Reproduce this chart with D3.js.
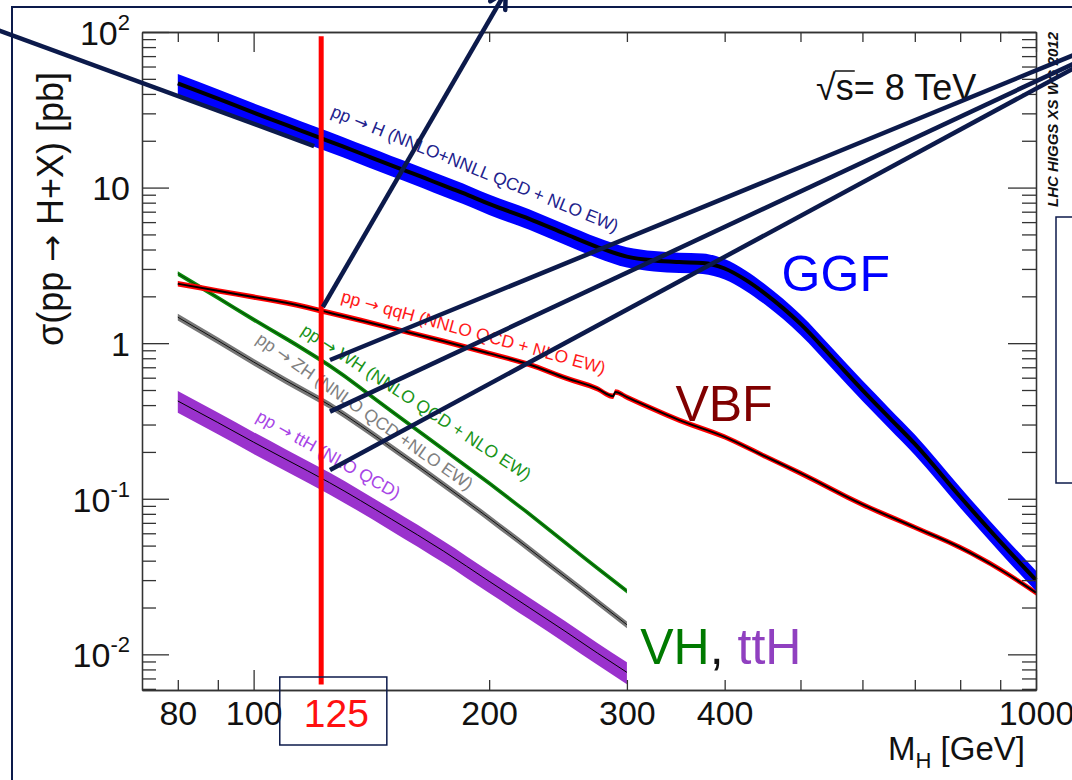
<!DOCTYPE html>
<html>
<head>
<meta charset="utf-8">
<script src="https://cdn.jsdelivr.net/npm/d3@7"></script>
<style>
    body { margin: 0; background: #fff; }
    svg { display: block; font-family: "Liberation Sans", Arial, sans-serif; }
</style>
</head>
<body>
<svg id="SVG_CONTAINER" width="1072" height="780"></svg>
<script>
let d3 = window.d3;

// sigma(pp -> H+X) at sqrt(s) = 8 TeV
// masses in GeV, cross sections in pb (centre of each band)
const ggfMass = [80, 90, 100, 110, 120, 130, 140, 150, 160, 170, 180, 190, 200, 225, 250, 275, 300, 325, 350, 375, 400, 425, 450, 475, 500, 550, 600, 650, 700, 800, 900, 1000];
const ggfXsec = [46.7, 37.3, 30.3, 25.3, 21.4, 18.4, 15.9, 13.9, 12.3, 10.9, 9.75, 8.75, 7.85, 6.3, 5.05, 4.15, 3.6, 3.4, 3.32, 3.28, 3.02, 2.56, 2.09, 1.68, 1.33, 0.80, 0.50, 0.33, 0.225, 0.103, 0.053, 0.030];

const vbfMass = [80, 90, 100, 110, 125, 150, 175, 200, 225, 250, 275, 288, 290, 300, 350, 400, 450, 500, 600, 700, 800, 900, 1000];
const vbfXsec = [2.41, 2.17, 1.98, 1.82, 1.57, 1.25, 1.03, 0.86, 0.73, 0.60, 0.51, 0.456, 0.486, 0.45, 0.32, 0.25, 0.188, 0.146, 0.092, 0.0655, 0.0486, 0.0351, 0.0249];

const vhMass  = [80, 90, 100, 110, 125, 150, 175, 200, 225, 250, 275, 300];
const whXsec  = [2.80, 1.96, 1.42, 1.07, 0.718, 0.366, 0.207, 0.126, 0.080, 0.0525, 0.0358, 0.0255];
const zhXsec  = [1.47, 1.04, 0.757, 0.574, 0.40, 0.214, 0.123, 0.075, 0.0477, 0.0316, 0.0218, 0.0155];
const tthXsec = [0.425, 0.309, 0.231, 0.179, 0.127, 0.074, 0.046, 0.0295, 0.020, 0.0141, 0.0102, 0.00766];

// relative half width of the uncertainty bands
const ggfBand = 0.15, vbfBand = 0.04, whBand = 0.035, zhBand = 0.05, tthBand = 0.16;

const processLabels = [
    ["pp", "H (NNLO+NNLL QCD + NLO EW)"],
    ["pp", "qqH (NNLO QCD + NLO EW)"],
    ["pp", "WH (NNLO QCD + NLO EW)"],
    ["pp", "ZH (NNLO QCD +NLO EW)"],
    ["pp", "ttH (NLO QCD)"]
];

const xTickValues  = [80, 90, 100, 200, 300, 400, 500, 600, 700, 800, 900, 1000];
const xLabelValues = [80, 100, 200, 300, 400, 1000];
const yDecades     = [0.01, 0.1, 1, 10, 100];

const higgsMass  = 125;
const markerMass = 122;   // where the slide's red line actually sits


const WIDTH = 1072, HEIGHT = 780;
const PLOT = {
    "LEFT": 142,
    "RIGHT": 1036,
    "TOP": 32,
    "BOTTOM": 690,
};
const NAVY = "#0c1a4b";
const ARROW_FONT = "DejaVu Sans";


window.onload = function () {
    setup();
};

let setup = function () {
    let svg = d3.select("#SVG_CONTAINER");

    let xScale = d3.scaleLog()
        .domain([72, 1000])
        .range([PLOT.LEFT, PLOT.RIGHT]);

    let yScale = d3.scaleLog()
        .domain([0.0059, 100])
        .range([PLOT.BOTTOM, PLOT.TOP]);

    //slide frame behind the plot
    svg.append("rect")
        .attr("x", 12).attr("y", 7)
        .attr("width", WIDTH + 40).attr("height", HEIGHT + 40)
        .attr("fill", "none")
        .attr("stroke", NAVY)
        .attr("stroke-width", 2);

    drawCurves(svg, xScale, yScale);
    drawAxes(svg, xScale, yScale);
    drawText(svg, xScale, yScale);
    drawOverlay(svg, xScale, yScale);
};


let drawCurves = function (svg, xScale, yScale) {
    const series = [
        {mass: vhMass,  xsec: tthXsec, band: tthBand, fill: "#9a32cd", stroke: "#000",    width: 1},
        {mass: vhMass,  xsec: zhXsec,  band: zhBand,  fill: "#777777", stroke: "#111",    width: 1},
        {mass: vhMass,  xsec: whXsec,  band: whBand,  fill: "#0a8a0a", stroke: "#063f06", width: 1},
        {mass: vbfMass, xsec: vbfXsec, band: vbfBand, fill: "#ff0000", stroke: "#000",    width: 2},
        {mass: ggfMass, xsec: ggfXsec, band: ggfBand, fill: "#0000ff", stroke: "#000",    width: 4},
    ];

    let g = svg.append("g").attr("class", "curves");

    series.forEach(function (s) {
        let pts = s.mass.map((m, i) => ({m: m, v: s.xsec[i]}));

        let area = d3.area()
            .x(d => xScale(d.m))
            .y0(d => yScale(d.v * (1 - s.band)))
            .y1(d => yScale(d.v * (1 + s.band)))
            .curve(d3.curveMonotoneX);

        let line = d3.line()
            .x(d => xScale(d.m))
            .y(d => yScale(d.v))
            .curve(d3.curveMonotoneX);

        g.append("path")
            .attr("d", area(pts))
            .attr("fill", s.fill);

        g.append("path")
            .attr("d", line(pts))
            .attr("fill", "none")
            .attr("stroke", s.stroke)
            .attr("stroke-width", s.width);
    });
};


let drawAxes = function (svg, xScale, yScale) {
    let g = svg.append("g").attr("class", "axes");
    const xMajor = [100, 1000];
    let xMinor = xTickValues.filter(v => xMajor.indexOf(v) < 0);

    let yMinor = [];
    for (let e = -3; e < 2; e++) {
        for (let k = 2; k < 10; k++) {
            let v = k * Math.pow(10, e);
            if (v >= yScale.domain()[0] && v <= 100) yMinor.push(v);
        }
    }

    let place = function (axis, tx, ty) {
        let a = g.append("g")
            .attr("transform", "translate(" + tx + ", " + ty + ")")
            .call(axis.tickSizeOuter(0).tickFormat(""));
        a.selectAll("path, line").attr("stroke", "#333").attr("stroke-width", 1.3);
        return a;
    };

    //ticks point into the frame on all four sides
    place(d3.axisLeft(yScale).tickValues(yMinor).tickSize(-14), PLOT.LEFT, 0);
    place(d3.axisRight(yScale).tickValues(yMinor).tickSize(-14), PLOT.RIGHT, 0);
    place(d3.axisRight(yScale).tickValues(yDecades).tickSize(-28), PLOT.RIGHT, 0);
    place(d3.axisBottom(xScale).tickValues(xMinor).tickSize(-10), 0, PLOT.BOTTOM);
    place(d3.axisTop(xScale).tickValues(xMinor).tickSize(-10), 0, PLOT.TOP);
    place(d3.axisTop(xScale).tickValues(xMajor).tickSize(-20), 0, PLOT.TOP);
    place(d3.axisBottom(xScale).tickValues(xMajor).tickSize(-20), 0, PLOT.BOTTOM);

    //y axis with decade labels
    let yAxis = place(d3.axisLeft(yScale).tickValues(yDecades).tickSize(-27).tickPadding(12), PLOT.LEFT, 0);
    yAxis.attr("font-size", null).attr("font-family", null);
    yAxis.selectAll(".tick text")
        .attr("dy", "0.36em")
        .style("font-size", "34px")
        .attr("fill", "#111")
        .each(function (d) {
            let t = d3.select(this);
            let e = Math.round(Math.log10(d));
            if (e === 0) { t.text("1"); return; }
            if (e === 1) { t.text("10"); return; }
            t.append("tspan").text("10");
            t.append("tspan").attr("dy", -15).style("font-size", "22px").text(e);
        });

    //x axis labels
    let xAxis = g.append("g")
        .attr("transform", "translate(0, " + PLOT.BOTTOM + ")")
        .call(d3.axisBottom(xScale).tickValues(xLabelValues).tickSize(0).tickPadding(11).tickFormat(d3.format("d")));
    xAxis.attr("font-size", null).attr("font-family", null);
    xAxis.select(".domain").remove();
    xAxis.selectAll(".tick text")
        .style("font-size", "34px")
        .attr("fill", "#111");
};


let drawText = function (svg, xScale, yScale) {
    //y axis title
    let yt = svg.append("text")
        .attr("transform", "translate(63, 209) rotate(-90)")
        .attr("text-anchor", "middle")
        .style("font-size", "36px")
        .attr("fill", "#111");
    yt.append("tspan").text("σ(pp ");
    yt.append("tspan").style("font-family", ARROW_FONT).style("font-size", "32px").text("→");
    yt.append("tspan").text(" H+X) [pb]");

    //x axis title
    let xt = svg.append("text")
        .attr("x", 1025).attr("y", 760)
        .attr("text-anchor", "end")
        .style("font-size", "33px")
        .attr("fill", "#111");
    xt.append("tspan").text("M");
    xt.append("tspan").attr("dy", 8).style("font-size", "22px").text("H");
    xt.append("tspan").attr("dy", -8).text(" [GeV]");

    //energy
    let rs = svg.append("text")
        .attr("x", 816).attr("y", 100)
        .style("font-size", "36px")
        .attr("fill", "#111");
    rs.append("tspan").text("√");
    rs.append("tspan").text("s");
    rs.append("tspan").text("= 8 TeV");
    let sBox = rs.node().getExtentOfChar(1);
    let rBox = rs.node().getExtentOfChar(0);
    svg.append("line")
        .attr("x1", rBox.x + rBox.width - 1).attr("x2", sBox.x + sBox.width + 1)
        .attr("y1", 71).attr("y2", 71)
        .attr("stroke", "#111").attr("stroke-width", 1.5);

    svg.append("text")
        .attr("transform", "translate(1058, 207) rotate(-90)")
        .style("font-size", "15px")
        .style("font-weight", "bold")
        .style("font-style", "italic")
        .attr("fill", "#111")
        .text("LHC HIGGS XS WG 2012");

    //process labels along the curves, anchored at (mass, sigma)
    const labelPlace = [
        {at: [125.2, 28.9], angle: 22.2, color: "#22228c"},
        {at: [129, 1.85],   angle: 15.4, color: "#ff1a1a"},
        {at: [114.6, 1.16], angle: 33.2, color: "#199419"},
        {at: [100.4, 1.02], angle: 35,   color: "#808080"},
        {at: [100.4, 0.321], angle: 29.4, color: "#a845e6"},
    ];
    let labels = svg.append("g")
        .selectAll("text")
        .data(processLabels)
        .enter()
        .append("text")
            .attr("transform", (d, i) => "translate(" + xScale(labelPlace[i].at[0]) + ", " +
                yScale(labelPlace[i].at[1]) + ") rotate(" + labelPlace[i].angle + ")")
            .style("font-size", "17.5px")
            .attr("fill", (d, i) => labelPlace[i].color);
    labels.append("tspan").text(d => d[0] + " ");
    labels.append("tspan").style("font-family", ARROW_FONT).style("font-size", "17px").text("→");
    labels.append("tspan").text(d => " " + d[1]);

    //big slide labels
    svg.append("text")
        .attr("x", xScale(473)).attr("y", yScale(2.17))
        .style("font-size", "50px").attr("fill", "#0000ff")
        .text("GGF");
    svg.append("text")
        .attr("x", xScale(346)).attr("y", yScale(0.316))
        .style("font-size", "50px").attr("fill", "#800000")
        .text("VBF");
    let vh = svg.append("text")
        .attr("x", xScale(312)).attr("y", yScale(0.0087))
        .style("font-size", "50px");
    vh.append("tspan").attr("fill", "#007a00").text("VH");
    vh.append("tspan").attr("fill", "#111").text(", ");
    vh.append("tspan").attr("fill", "#9040c0").text("ttH");
};


let drawOverlay = function (svg, xScale, yScale) {
    let g = svg.append("g").attr("class", "overlay");

    //red marker at the Higgs mass
    g.append("line")
        .attr("x1", xScale(markerMass)).attr("x2", xScale(markerMass))
        .attr("y1", yScale(94)).attr("y2", yScale(0.0064))
        .attr("stroke", "#ff0000")
        .attr("stroke-width", 5);

    //boxed mass value under the axis
    g.append("rect")
        .attr("x", xScale(108)).attr("y", PLOT.BOTTOM - 13)
        .attr("width", xScale(148) - xScale(108)).attr("height", 68)
        .attr("fill", "none")
        .attr("stroke", NAVY).attr("stroke-width", 1.5);
    g.append("text")
        .attr("x", (xScale(108) + xScale(148)) / 2 + 3).attr("y", 727)
        .attr("text-anchor", "middle")
        .style("font-size", "39px")
        .attr("fill", "#ff1010")
        .text(higgsMass);

    //box at the right edge of the slide
    g.append("rect")
        .attr("x", 1056).attr("y", 217)
        .attr("width", 60).attr("height", 266)
        .attr("fill", "none")
        .attr("stroke", NAVY).attr("stroke-width", 1.5);

    //pointer lines, endpoints in (mass, sigma)
    const pointers = [
        {from: [45, 112],      to: [119.5, 18.5]},
        {from: [122.6, 1.708], to: [210, 181], head: true},
        {from: [125.2, 0.780], to: [1172, 78.5]},
        {from: [125.2, 0.363], to: [1172, 70.1]},
        {from: [125.2, 0.153], to: [1172, 66.5]},
    ];

    pointers.forEach(function (p) {
        let x1 = xScale(p.from[0]), y1 = yScale(p.from[1]);
        let x2 = xScale(p.to[0]),   y2 = yScale(p.to[1]);
        g.append("line")
            .attr("x1", x1).attr("y1", y1)
            .attr("x2", x2).attr("y2", y2)
            .attr("stroke", NAVY)
            .attr("stroke-width", 4.5);

        if (p.head) {
            let a = Math.atan2(y1 - y2, x1 - x2);
            [-0.5, 0.5].forEach(function (da) {
                g.append("line")
                    .attr("x1", x2).attr("y1", y2)
                    .attr("x2", x2 + 18 * Math.cos(a + da))
                    .attr("y2", y2 + 18 * Math.sin(a + da))
                    .attr("stroke", NAVY)
                    .attr("stroke-width", 4.5)
                    .attr("stroke-linecap", "round");
            });
        }
    });
};
</script>
</body>
</html>
